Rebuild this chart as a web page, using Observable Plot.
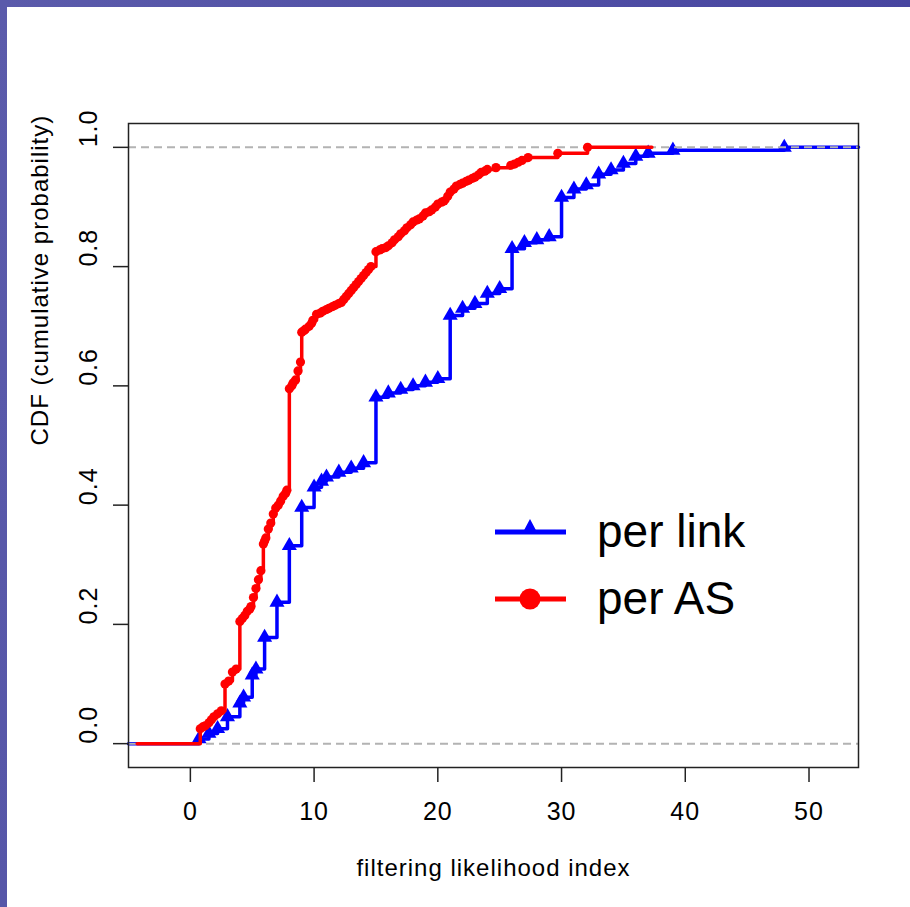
<!DOCTYPE html>
<html>
<head>
<meta charset="utf-8">
<script src="https://cdn.jsdelivr.net/npm/d3@7"></script>
<script src="https://cdn.jsdelivr.net/npm/@observablehq/plot@0.6"></script>
<style>
  body { margin: 0; background: #fff; }
  #chart svg text { letter-spacing: 1px; }
</style>
</head>
<body>
<div id="chart" style="position:absolute;left:0;top:0"></div>
<div style="position:absolute;left:0;top:0;width:910px;height:7px;background:linear-gradient(to right,#5b5bab,#4745a0)"></div>
<div style="position:absolute;left:0;top:0;width:7px;height:907px;background:linear-gradient(to bottom,#5b5bab,#5656a8)"></div>
<div id="legend" style="position:absolute;left:480px;top:500px"></div>
<script>
// per link ECDF knots
const linkX = [0.7, 1.5, 2.2, 3.0, 4.0, 4.3, 5.0, 5.3, 6.0, 7.0, 8.0, 9.0, 10.0, 10.6, 11.0, 12.0, 13.0, 14.0,
  15.0, 16.0, 17.0, 18.0, 19.0, 20.0, 21.0, 22.0, 23.0, 24.0, 25.0, 26.0, 27.0, 28.0, 29.0,
  30.0, 31.0, 32.0, 33.0, 34.0, 35.0, 36.0, 37.0, 39.0, 48.0];
const linkY = [0.008, 0.017, 0.025, 0.045, 0.068, 0.078, 0.115, 0.125, 0.178, 0.237, 0.332, 0.396, 0.43, 0.44, 0.447, 0.455, 0.462, 0.471,
  0.581, 0.588, 0.594, 0.600, 0.606, 0.612, 0.718, 0.73, 0.738, 0.755, 0.763, 0.83, 0.84, 0.845, 0.85,
  0.916, 0.93, 0.937, 0.955, 0.962, 0.973, 0.985, 0.99, 0.995, 1.0];
// per AS ECDF knots
const asX = [0.8, 1.0, 1.2, 1.5, 1.7, 1.9, 2.2, 2.5, 2.8, 3.1, 3.4, 3.7, 4.0, 4.2, 4.4, 4.6, 4.8, 4.9, 5.1, 5.3, 5.5, 5.7,
  5.9, 6.0, 6.1, 6.3, 6.5, 6.7, 6.9, 7.1, 7.3, 7.5, 7.7, 7.8, 8.0, 8.2, 8.3, 8.5, 8.7, 8.9, 9.0, 9.2, 9.3, 9.6, 9.8, 9.9,
  10.2, 10.5, 10.7, 11.0, 11.2, 11.5, 11.7, 12.0, 12.2, 12.4, 12.6, 12.8, 13.0, 13.2, 13.4, 13.6, 13.8, 14.0, 14.2, 14.4, 14.6,
  15.0, 15.3, 15.5, 15.8, 16.0, 16.3, 16.5, 16.8, 17.0, 17.3,
  17.5, 17.8, 18.0, 18.3, 18.5, 18.8, 19.0, 19.3, 19.5, 19.8, 20.0, 20.3, 20.5, 20.8, 21.0, 21.3, 21.5, 21.8, 22.0, 22.3,
  22.5, 22.8, 23.0, 23.3, 23.5, 23.8, 24.0, 24.7, 25.9, 26.2,
  26.5, 26.8, 27.3, 29.7, 32.1];
const asY = [0.025, 0.028, 0.03, 0.035, 0.04, 0.045, 0.05, 0.055, 0.10, 0.105, 0.12, 0.125, 0.205, 0.21, 0.215, 0.222, 0.226, 0.23, 0.245, 0.26, 0.275, 0.29,
  0.335, 0.34, 0.345, 0.36, 0.37, 0.385, 0.395, 0.40, 0.407, 0.415, 0.42, 0.425, 0.595, 0.60, 0.605, 0.61, 0.625, 0.64, 0.69, 0.693, 0.695, 0.70, 0.705, 0.71,
  0.72, 0.722, 0.725, 0.728, 0.73, 0.733, 0.735, 0.738, 0.74, 0.745, 0.75, 0.755, 0.76, 0.765, 0.77, 0.775, 0.78, 0.785, 0.79, 0.795, 0.80,
  0.825, 0.828, 0.83, 0.832, 0.835, 0.84, 0.845, 0.85, 0.855, 0.86,
  0.865, 0.87, 0.875, 0.878, 0.88, 0.885, 0.89, 0.892, 0.895, 0.90, 0.905, 0.908, 0.91, 0.918, 0.925, 0.93, 0.935, 0.938, 0.94, 0.943,
  0.945, 0.948, 0.95, 0.954, 0.958, 0.96, 0.963, 0.966, 0.97, 0.972,
  0.975, 0.978, 0.983, 0.99, 1.0];
// horizontal extent of each step line
const linkRange = [-5, 54];
const asRange = [-4.3, 37.3];
const xTicks = [0, 10, 20, 30, 40, 50];
const yTicks = [0, 0.2, 0.4, 0.6, 0.8, 1.0];
const xLabel = "filtering likelihood index";
const yLabel = "CDF (cumulative probability)";
const seriesNames = ["per link", "per AS"];

const linkPts = linkX.map((x, i) => ({x, y: linkY[i]}));
const asPts = asX.map((x, i) => ({x, y: asY[i]}));
const linkPath = [{x: linkRange[0], y: 0}, ...linkPts, {x: linkRange[1], y: 1}];
const asPath = [{x: asRange[0], y: 0}, ...asPts, {x: asRange[1], y: 1}];

const font = "'Liberation Sans', Arial, sans-serif";
const chart = Plot.plot({
  width: 910, height: 907,
  marginLeft: 128, marginRight: 52, marginTop: 123, marginBottom: 140,
  style: {fontFamily: font, color: "#000", background: "transparent"},
  x: {domain: [-5, 54], label: null},
  y: {domain: [-0.04, 1.04], label: null},
  marks: [
    Plot.line(linkPath, {x: "x", y: "y", curve: "step-after", stroke: "#0000ff", strokeWidth: 3.5}),
    Plot.dot(linkPts, {x: "x", y: "y", symbol: "triangle", r: 5.6, fill: "#0000ff"}),
    Plot.ruleY([0, 1], {stroke: "#b3b3b3", strokeWidth: 2, strokeDasharray: "8,5"}),
    Plot.line(asPath, {x: "x", y: "y", curve: "step-after", stroke: "#ff0000", strokeWidth: 3.5}),
    Plot.dot(asPts, {x: "x", y: "y", r: 4.6, fill: "#ff0000"}),
    Plot.frame({stroke: "#222", strokeWidth: 1.5}),
    Plot.axisX(xTicks, {tickSize: 15, tickPadding: 20, fontSize: 25, stroke: "#222", strokeWidth: 1.5, label: null}),
    Plot.axisY(yTicks, {tickSize: 15, tickFormat: () => "", stroke: "#222", strokeWidth: 1.5, label: null}),
    Plot.text(yTicks, {y: d => d, text: d => d.toFixed(1), frameAnchor: "left", dx: -40, rotate: -90, fontSize: 25}),
    Plot.text([yLabel], {frameAnchor: "left", dx: -88, rotate: -90, fontSize: 24}),
    Plot.text([xLabel], {frameAnchor: "bottom", dy: 108, fontSize: 24})
  ]
});
document.getElementById("chart").appendChild(chart);

document.getElementById("legend").innerHTML = `
<svg width="300" height="140" style="font-family:${font}">
  <line x1="15" x2="86" y1="32" y2="32" stroke="#0000ff" stroke-width="5"/>
  <polygon points="50,19 42,34 58,34" fill="#0000ff"/>
  <text x="117" y="47" font-size="46">${seriesNames[0]}</text>
  <line x1="15" x2="86" y1="99" y2="99" stroke="#ff0000" stroke-width="5"/>
  <circle cx="50" cy="99" r="10.5" fill="#ff0000"/>
  <text x="117" y="114" font-size="46">${seriesNames[1]}</text>
</svg>`;
</script>
</body>
</html>
